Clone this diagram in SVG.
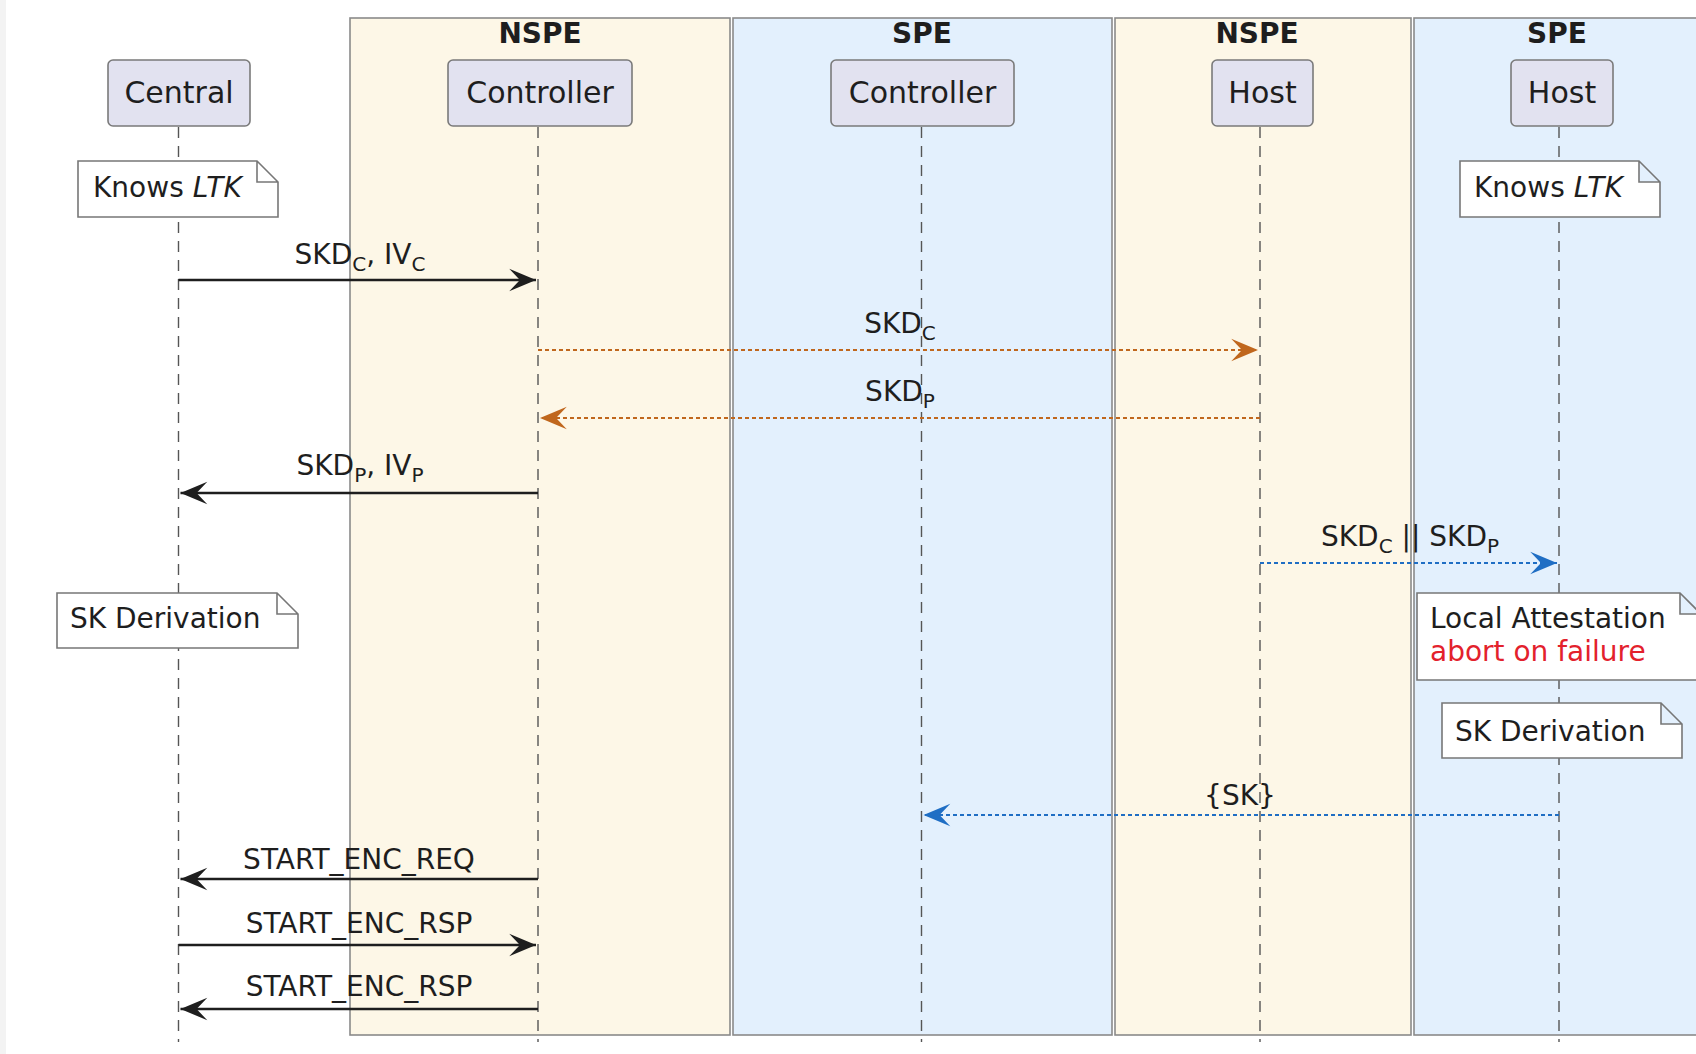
<svg xmlns="http://www.w3.org/2000/svg" width="1696" height="1054" viewBox="0 0 1696 1054">
<defs>
<style>
text{font-family:"DejaVu Sans","Liberation Sans",sans-serif;fill:#1e1e1e}
.title{font-size:28px;font-weight:bold;text-anchor:middle}
.pname{font-size:30px;text-anchor:middle}
.msg{font-size:28px;text-anchor:middle}
.note-t{font-size:28px}
.sub{font-size:20px}
.nspe{fill:#FDF7E7;stroke:#8a8a8a;stroke-width:1.6}
.spe{fill:#E3F0FD;stroke:#8a8a8a;stroke-width:1.6}
.part{fill:#E2E2F0;stroke:#7a7a7a;stroke-width:1.6}
.life{stroke:#555;stroke-width:1.4;stroke-dasharray:11 8;fill:none}
.note{fill:#fff;stroke:#777;stroke-width:1.6}
.solid{stroke:#1e1e1e;stroke-width:2.6;fill:none}
.orange{stroke:#C0671D;stroke-width:2;stroke-dasharray:4 3;fill:none}
.blue{stroke:#1F6EC4;stroke-width:2;stroke-dasharray:4 3;fill:none}
.red{fill:#E3212C}
</style>
<marker id="ah-k" markerUnits="userSpaceOnUse" markerWidth="30" markerHeight="26" viewBox="-26 -12 28 24" refX="0" refY="0" orient="auto"><polygon points="0,0 -25,-10.5 -15,0 -25,10.5" fill="#1e1e1e"/></marker>
<marker id="ah-o" markerUnits="userSpaceOnUse" markerWidth="30" markerHeight="26" viewBox="-26 -12 28 24" refX="0" refY="0" orient="auto"><polygon points="0,0 -25,-10.5 -15,0 -25,10.5" fill="#C0671D"/></marker>
<marker id="ah-b" markerUnits="userSpaceOnUse" markerWidth="30" markerHeight="26" viewBox="-26 -12 28 24" refX="0" refY="0" orient="auto"><polygon points="0,0 -25,-10.5 -15,0 -25,10.5" fill="#1F6EC4"/></marker>
</defs>
<rect x="0" y="0" width="1696" height="1054" fill="#fff"/>
<rect x="0" y="0" width="6" height="1054" fill="#f3f3f3"/>

<g id="boxes">
<g id="box-nspe1"><rect class="nspe" x="350" y="18" width="380" height="1017"/><text class="title" x="540" y="43">NSPE</text></g>
<g id="box-spe1"><rect class="spe" x="733" y="18" width="379" height="1017"/><text class="title" x="922" y="43">SPE</text></g>
<g id="box-nspe2"><rect class="nspe" x="1115" y="18" width="296" height="1017"/><text class="title" x="1257" y="43">NSPE</text></g>
<g id="box-spe2"><rect class="spe" x="1414" y="18" width="300" height="1017"/><text class="title" x="1557" y="43">SPE</text></g>
</g>

<g id="lifelines">
<line class="life" x1="178.5" y1="127" x2="178.5" y2="1042"/>
<line class="life" x1="538" y1="127" x2="538" y2="1042"/>
<line class="life" x1="921.5" y1="127" x2="921.5" y2="1042"/>
<line class="life" x1="1260" y1="127" x2="1260" y2="1042"/>
<line class="life" x1="1559" y1="127" x2="1559" y2="1042"/>
</g>

<g id="p-central"><rect class="part" x="108" y="60" width="142" height="66" rx="5"/><text class="pname" x="179" y="103">Central</text></g>
<g id="p-nspe-controller"><rect class="part" x="448" y="60" width="184" height="66" rx="5"/><text class="pname" x="540" y="103">Controller</text></g>
<g id="p-spe-controller"><rect class="part" x="831" y="60" width="183" height="66" rx="5"/><text class="pname" x="922.5" y="103">Controller</text></g>
<g id="p-nspe-host"><rect class="part" x="1212" y="60" width="101" height="66" rx="5"/><text class="pname" x="1262.5" y="103">Host</text></g>
<g id="p-spe-host"><rect class="part" x="1511" y="60" width="102" height="66" rx="5"/><text class="pname" x="1562" y="103">Host</text></g>

<g id="note-ltk-central"><path class="note" d="M78,161 H257 L278,182 V217 H78 Z M257,161 V182 H278"/><text class="note-t" x="93" y="197">Knows <tspan font-style="italic">LTK</tspan></text></g>
<g id="note-ltk-host"><path class="note" d="M1460,161 H1639 L1660,182 V217 H1460 Z M1639,161 V182 H1660"/><text class="note-t" x="1474" y="197">Knows <tspan font-style="italic">LTK</tspan></text></g>
<g id="note-skd-central"><path class="note" d="M57,593 H277 L298,614 V648 H57 Z M277,593 V614 H298"/><text class="note-t" x="70" y="628">SK Derivation</text></g>
<g id="note-attest"><path class="note" d="M1417,593 H1680 L1701,614 V680 H1417 Z M1680,593 V614 H1701"/><text class="note-t" x="1430" y="628">Local Attestation</text><text class="note-t red" x="1430" y="661">abort on failure</text></g>
<g id="note-skd-host"><path class="note" d="M1442,703 H1661 L1682,724 V758 H1442 Z M1661,703 V724 H1682"/><text class="note-t" x="1455" y="741">SK Derivation</text></g>

<g id="connectors">
<line class="solid" x1="178.5" y1="280" x2="536" y2="280" marker-end="url(#ah-k)"/>
<text class="msg" x="360" y="264">SKD<tspan class="sub" dy="7">C</tspan><tspan dy="-7">, IV</tspan><tspan class="sub" dy="7">C</tspan></text>

<line class="orange" x1="538" y1="350" x2="1258" y2="350" marker-end="url(#ah-o)"/>
<text class="msg" x="900" y="333">SKD<tspan class="sub" dy="7">C</tspan></text>

<line class="orange" x1="1260" y1="418" x2="540" y2="418" marker-end="url(#ah-o)"/>
<text class="msg" x="900" y="401">SKD<tspan class="sub" dy="7">P</tspan></text>

<line class="solid" x1="538" y1="493" x2="180.5" y2="493" marker-end="url(#ah-k)"/>
<text class="msg" x="360" y="475">SKD<tspan class="sub" dy="7">P</tspan><tspan dy="-7">, IV</tspan><tspan class="sub" dy="7">P</tspan></text>

<line class="blue" x1="1260" y1="563" x2="1557" y2="563" marker-end="url(#ah-b)"/>
<text class="msg" x="1410" y="546">SKD<tspan class="sub" dy="7">C</tspan><tspan dy="-7"> || SKD</tspan><tspan class="sub" dy="7">P</tspan></text>

<line class="blue" x1="1559" y1="815" x2="923.5" y2="815" marker-end="url(#ah-b)"/>
<text class="msg" x="1240" y="805">{SK}</text>

<line class="solid" x1="538" y1="879" x2="180.5" y2="879" marker-end="url(#ah-k)"/>
<text class="msg" x="359" y="869">START_ENC_REQ</text>

<line class="solid" x1="178.5" y1="945" x2="536" y2="945" marker-end="url(#ah-k)"/>
<text class="msg" x="359" y="933">START_ENC_RSP</text>

<line class="solid" x1="538" y1="1009" x2="180.5" y2="1009" marker-end="url(#ah-k)"/>
<text class="msg" x="359" y="996">START_ENC_RSP</text>
</g>
</svg>
